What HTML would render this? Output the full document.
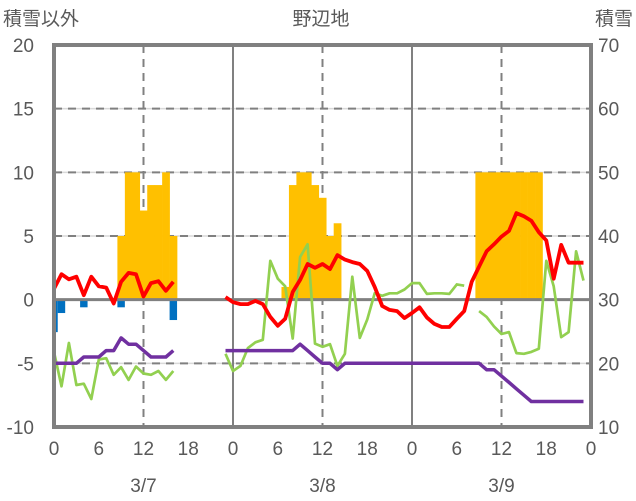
<!DOCTYPE html>
<html><head><meta charset="utf-8">
<style>
html,body{margin:0;padding:0;background:#fff;}
svg{display:block;font-family:"Liberation Sans","Noto Sans CJK JP",sans-serif;}
</style></head>
<body>
<svg id="chart" width="636" height="501" viewBox="0 0 636 501" xmlns="http://www.w3.org/2000/svg">
<text x="3" y="25" font-size="19" fill="#595959">積雪以外</text>
<text x="321" y="25" font-size="19" fill="#595959" text-anchor="middle">野辺地</text>
<text x="633" y="25" font-size="19" fill="#595959" text-anchor="end">積雪</text>
<g id="grid"></g>
<g id="bars"></g>
<g id="lines"></g>
<g id="frame"></g>
<g id="labels"></g>
</svg>
<script>
const leftTicks = [20, 15, 10, 5, 0, -5, -10];
const rightTicks = [70, 60, 50, 40, 30, 20, 10];
const hourTicks = ["0","6","12","18","0","6","12","18","0","6","12","18","0"];
const dayLabels = ["3/7","3/8","3/9"];
const orangeHours = [9,10,11,12,13,14,15,16, 31,32,33,34,35,36,37,38, 57,58,59,60,61,62,63,64,65];
const orangeValues = [5,10,10,7,9,9,10,5, 1,9,10,10,9,8,5,6, 10,10,10,10,10,10,10,10,10];
const blueHours = [0,1,4,9,16];
const blueValues = [-2.55,-1.05,-0.6,-0.6,-1.6];
const redValues = [0.85,2.0,1.6,1.8,0.35,1.8,1.05,0.95,-0.3,1.4,2.1,2.0,0.25,1.3,1.45,0.7,1.4,
 null,null,null,null,null,null,
 0.2,-0.2,-0.35,-0.35,-0.1,-0.35,-1.35,-2.05,-1.5,0.6,1.55,2.8,2.5,2.8,2.4,3.5,3.15,2.95,2.8,2.25,1.0,-0.5,-0.8,-0.9,-1.45,
 -1.05,-0.6,-1.4,-1.9,-2.15,-2.15,-1.5,-0.9,1.4,2.6,3.8,4.35,4.95,5.4,6.8,6.55,6.2,5.3,4.65,1.65,4.3,2.9,2.9,2.9];
const greenValues = [-4.1,-6.8,-3.4,-6.7,-6.6,-7.8,-4.7,-4.6,-5.9,-5.3,-6.3,-5.25,-5.8,-5.9,-5.6,-6.3,-5.6,
 null,null,null,null,null,null,
 -4.25,-5.6,-5.2,-3.8,-3.35,-3.15,3.05,1.65,1.05,-3.05,3.35,4.35,-3.45,-3.7,-3.5,-5.2,-4.25,1.8,-3.0,-1.55,0.5,0.3,0.5,0.5,0.8,
 1.3,1.3,0.45,0.5,0.5,0.45,1.2,1.1,null,-0.9,-1.35,-2.1,-2.7,-2.55,-4.2,-4.25,-4.1,-3.85,3.05,1.05,-2.95,-2.55,3.8,1.5];
const snowValues = [20,20,20,20,21,21,21,22,22,24,23,23,22,21,21,21,22,
 null,null,null,null,null,null,
 22,22,22,22,22,22,22,22,22,22,23,22,21,20,20,19,20,20,20,20,20,20,20,20,20,
 20,20,20,20,20,20,20,20,20,20,19,19,18,17,16,15,14,14,14,14,14,14,14,14];

const X0 = 54, X1 = 591, Y0 = 45, Y1 = 427;
const hourW = (X1 - X0) / 72;
const x = h => X0 + h * hourW;
const yL = v => Y1 - (v + 10) / 30 * (Y1 - Y0);
const yR = v => Y1 - (v - 10) / 60 * (Y1 - Y0);
const NS = "http://www.w3.org/2000/svg";
function mk(tag, attrs, parent) {
  const e = document.createElementNS(NS, tag);
  for (const k in attrs) e.setAttribute(k, attrs[k]);
  document.getElementById(parent).appendChild(e);
  return e;
}
leftTicks.forEach(v => {
  if (v === 20 || v === -10 || v === 0) return;
  const g1 = mk("line", {x1: X0, x2: X1, y1: yL(v), y2: yL(v), stroke: "#d9d9d9", "stroke-width": 1.5}, "grid");
  
  
  const g2 = mk("line", {x1: X0, x2: X1, y1: yL(v), y2: yL(v), stroke: "#808080", "stroke-width": 2, "stroke-dasharray": "8 6"}, "grid");
  
  
});
[12, 36, 60].forEach(h => {
  const l = mk("line", {x1: x(h), x2: x(h), y1: Y0, y2: Y1, stroke: "#808080", "stroke-width": 2, "stroke-dasharray": "8 6"}, "grid");
  
  
});
[24, 48].forEach(h => {
  const l = mk("line", {x1: x(h), x2: x(h), y1: Y0, y2: Y1, stroke: "#808080", "stroke-width": 2}, "grid");
  
  
});
orangeHours.forEach((h, i) => {
  const v = orangeValues[i];
  const r = mk("rect", {x: x(h) - hourW / 2, y: yL(v), width: hourW + 0.3, height: yL(0) - yL(v), fill: "#FFC000"}, "bars");
  
  
});
blueHours.forEach((h, i) => {
  const v = blueValues[i];
  const left = Math.max(X0, x(h) - hourW / 2);
  const r = mk("rect", {x: left, y: yL(0), width: x(h) + hourW / 2 - left, height: yL(v) - yL(0), fill: "#0070C0"}, "bars");
  
  
});
const z = mk("line", {x1: X0, x2: X1, y1: yL(0), y2: yL(0), stroke: "#808080", "stroke-width": 3}, "bars");



function drawSeries(vals, yf, color, w, name) {
  let d = "", pen = false;
  vals.forEach((v, i) => {
    if (v === null) { pen = false; return; }
    d += (pen ? "L" : "M") + x(i).toFixed(1) + " " + yf(v).toFixed(1) + " ";
    pen = true;
  });
  const p = mk("path", {d: d, fill: "none", stroke: color, "stroke-width": w, "stroke-linejoin": "round"}, "lines");
  
  
}
drawSeries(greenValues, yL, "#92D050", 2.7, "green-series-line");
drawSeries(snowValues, yR, "#7030A0", 3.5, "snow-depth-line");
drawSeries(redValues, yL, "#FF0000", 3.8, "red-series-line");

const f = mk("rect", {x: X0, y: Y0, width: X1 - X0, height: Y1 - Y0, fill: "none", stroke: "#808080", "stroke-width": 4}, "frame");



leftTicks.forEach(v => {
  const t = mk("text", {x: 34, y: yL(v) + 7, "font-size": 19, fill: "#595959", "text-anchor": "end"}, "labels");
  t.textContent = v;
  
  
});
rightTicks.forEach(v => {
  const t = mk("text", {x: 598, y: yR(v) + 7, "font-size": 19, fill: "#595959"}, "labels");
  t.textContent = v;
  
  
});
hourTicks.forEach((s, i) => {
  const t = mk("text", {x: x(i * 6), y: 455, "font-size": 19, fill: "#595959", "text-anchor": "middle"}, "labels");
  t.textContent = s;
  
  
});
dayLabels.forEach((s, i) => {
  const t = mk("text", {x: x(i * 24 + 12), y: 492, "font-size": 19, fill: "#595959", "text-anchor": "middle"}, "labels");
  t.textContent = s;
  
  
});
</script>
</body></html>
